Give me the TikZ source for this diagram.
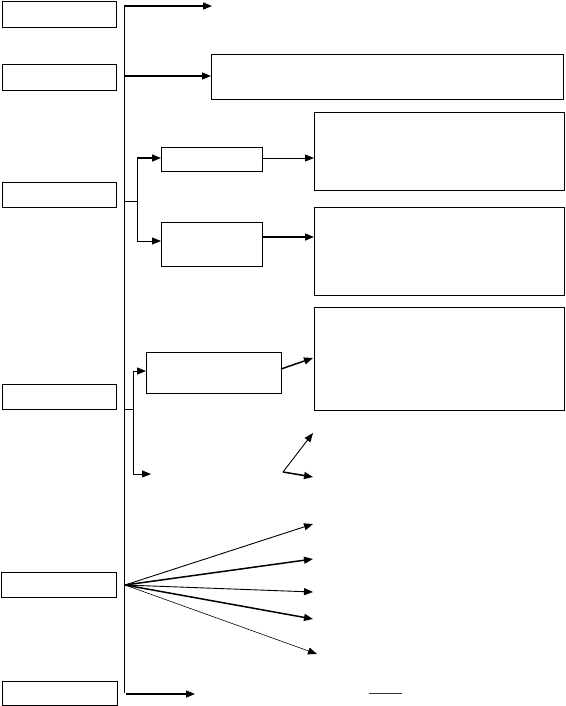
\documentclass[tikz,border=0pt]{standalone}
\usetikzlibrary{arrows.meta}
\begin{document}
\begin{tikzpicture}[x=1pt,y=-1pt,
  box/.style={draw,line width=1pt,rectangle,inner sep=0pt,anchor=north west},
  ln/.style={line width=0.9pt},
  arr/.style={line width=0.9pt,-{Triangle[length=9pt,width=7pt]}},
  thk/.style={line width=1.5pt,-{Triangle[length=9pt,width=7pt]}},
  thn/.style={line width=0.6pt,-{Triangle[length=9pt,width=7pt]}}]
\useasboundingbox (0,0) rectangle (565,706);
% left boxes
\node[box,minimum width=114pt,minimum height=26pt] (L1) at (2,0.6) {};
\node[box,minimum width=114pt,minimum height=26pt] (L2) at (2,64) {};
\node[box,minimum width=114pt,minimum height=25pt] (L3) at (2,182) {};
\node[box,minimum width=114pt,minimum height=25pt] (L4) at (2,384) {};
\node[box,minimum width=115pt,minimum height=25pt] (L5) at (1,572) {};
\node[box,minimum width=115pt,minimum height=24pt] (L6) at (2,681) {};
% right boxes
\node[box,minimum width=352pt,minimum height=45pt] (A) at (211,54) {};
\node[box,minimum width=101pt,minimum height=24pt] (B1) at (161,147) {};
\node[box,minimum width=101pt,minimum height=44pt] (B2) at (161,222) {};
\node[box,minimum width=250pt,minimum height=78pt] (C1) at (314,112) {};
\node[box,minimum width=250pt,minimum height=88pt] (C2) at (314,207) {};
\node[box,minimum width=250pt,minimum height=103pt] (C3) at (314,307) {};
\node[box,minimum width=135pt,minimum height=41pt] (D) at (146,352) {};
% bus
\coordinate (bt) at (124,6);
\coordinate (bb) at (124,693);
\draw[ln] (bt) -- (bb);
% top arrows
\coordinate (e1) at (212,6);
\draw[thk] (bt) -- (e1);
\coordinate (s2) at (124,76);
\draw[thk] (s2) -- (A.west |- s2);
% L3 branch
\coordinate (j3) at (124,201);
\coordinate (k3a) at (137,158);
\coordinate (k3b) at (137,241);
\draw[ln] (j3) -- (137,201);
\draw[ln] (k3a) -- (k3b);
\draw[thk] (k3a) -- (B1.west |- k3a);
\draw[arr] (k3b) -- (B2.west |- k3b);
\draw[arr] (B1.east |- k3a) -- (C1.west |- k3a);
\draw[thk] (B2.east |- 0,237) -- (C2.west |- 0,237);
% L4 branch
\coordinate (j4) at (124,409);
\coordinate (k4a) at (133,371);
\coordinate (k4b) at (133,474);
\draw[ln] (j4) -- (133,409);
\draw[ln] (k4a) -- (k4b);
\draw[arr] (k4a) -- (D.west |- k4a);
\coordinate (e4b) at (151,474);
\draw[arr] (k4b) -- (e4b);
\coordinate (dOut) at (281,369);
\coordinate (c3in) at (313,358);
\draw[thk] (dOut) -- (c3in);
\coordinate (f0) at (283,472);
\coordinate (f1) at (313,433);
\coordinate (f2) at (313,477);
\draw[arr] (f0) -- (f1);
\draw[thk] (f0) -- (f2);
% fan
\coordinate (o) at (125,585);
\coordinate (g1) at (313,524);
\coordinate (g2) at (313,559);
\coordinate (g3) at (313,592);
\coordinate (g4) at (313,619);
\coordinate (g5) at (317,654);
\draw[arr] (o) -- (g1);
\draw[thk] (o) -- (g2);
\draw[arr] (o) -- (g3);
\draw[thk] (o) -- (g4);
\draw[thn] (o) -- (g5);
% bottom
\coordinate (s6) at (126,694);
\coordinate (e6) at (195,694);
\draw[thk] (s6) -- (e6);
\coordinate (m1) at (369,693);
\coordinate (m2) at (402,693);
\draw[line width=1pt,black!80] (m1) -- (m2);
\end{tikzpicture}
\end{document}
